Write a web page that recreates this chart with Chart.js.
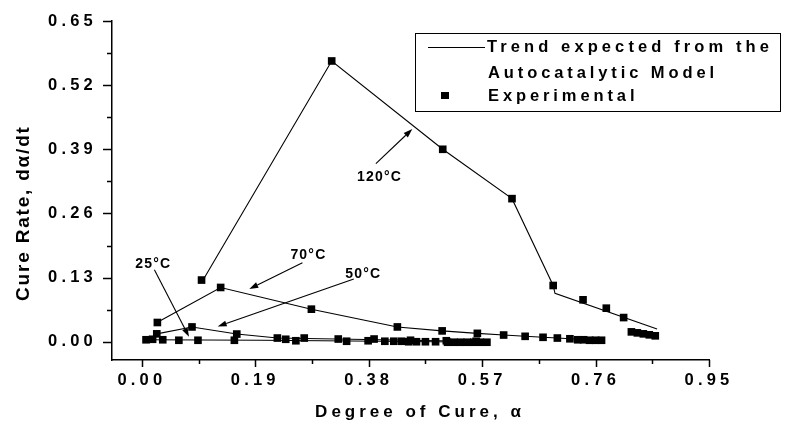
<!DOCTYPE html>
<html><head><meta charset="utf-8">
<script src="https://cdn.jsdelivr.net/npm/chart.js@4"></script>
<style>html,body{margin:0;padding:0;background:#fff}#wrap{width:787px;height:432px;position:relative}</style>
</head><body><div id="wrap"><canvas id="c" width="787" height="432"></canvas></div>
<script>
// ---- tick labels ----
const xTickValues = [0.00, 0.19, 0.38, 0.57, 0.76, 0.95];
const yTickValues = [0.00, 0.13, 0.26, 0.39, 0.52, 0.65];

// ---- experimental points ----
const exp120X = [0.10, 0.318, 0.504, 0.62, 0.689, 0.739, 0.778, 0.807, 0.82, 0.83, 0.84, 0.85, 0.86];
const exp120Y = [0.125, 0.569, 0.390, 0.290, 0.114, 0.085, 0.068, 0.049, 0.020, 0.018, 0.016, 0.014, 0.012];

const exp70X = [0.026, 0.132, 0.284, 0.428, 0.503, 0.562, 0.606, 0.642, 0.672, 0.696, 0.717, 0.73, 0.74, 0.75, 0.76, 0.77];
const exp70Y = [0.039, 0.110, 0.066, 0.030, 0.022, 0.017, 0.0136, 0.011, 0.009, 0.0075, 0.006, 0.004, 0.004, 0.003, 0.003, 0.003];

const exp50X = [0.025, 0.084, 0.159, 0.227, 0.272, 0.329, 0.389, 0.45, 0.51, 0.56];
const exp50Y = [0.016, 0.030, 0.0156, 0.0075, 0.0075, 0.0055, 0.0055, 0.003, 0.002, 0.001];

const exp25X = [0.007, 0.018, 0.035, 0.062, 0.094, 0.155, 0.241, 0.258, 0.343, 0.379, 0.407, 0.422, 0.435, 0.447, 0.46, 0.475, 0.492, 0.512, 0.523, 0.534, 0.545, 0.556, 0.567, 0.578];
const exp25Y = [0.004, 0.005, 0.004, 0.003, 0.003, 0.003, 0.005, 0.002, 0.001, 0.002, 0.001, 0.001, 0.001, 0.000, 0.000, 0.000, 0.000, -0.001, -0.001, -0.001, -0.001, -0.001, -0.001, -0.001];

// ---- model trend lines ----
const trend120X = [0.105, 0.318, 0.504, 0.62, 0.689, 0.692, 0.863];
const trend120Y = [0.130, 0.569, 0.390, 0.290, 0.114, 0.098, 0.026];

const trend70X = [0.03, 0.132, 0.284, 0.428, 0.503, 0.562, 0.606, 0.642, 0.672, 0.696, 0.717, 0.77];
const trend70Y = [0.042, 0.110, 0.066, 0.030, 0.022, 0.017, 0.0136, 0.011, 0.009, 0.0075, 0.006, 0.003];

const trend50X = [0.025, 0.084, 0.159, 0.227, 0.30, 0.40, 0.50, 0.58];
const trend50Y = [0.016, 0.030, 0.0156, 0.0075, 0.006, 0.004, 0.002, 0.001];

const trend25X = [0.007, 0.20, 0.40, 0.58];
const trend25Y = [0.004, 0.003, 0.001, -0.001];

// ---- labels ----
const legendLine1 = 'Trend expected from the';
const legendLine2 = 'Autocatalytic Model';
const legendExp = 'Experimental';
const xTitle = 'Degree of Cure, \u03b1';
const yTitle = 'Cure Rate, d\u03b1/dt';
const tempLabels = ['120\u00b0C', '70\u00b0C', '50\u00b0C', '25\u00b0C'];
// label anchor and arrow (tail -> head) in data units
const tempLabelX = [0.397, 0.278, 0.370, 0.018];
const tempLabelY = [0.334, 0.176, 0.137, 0.157];
const arrowTailX = [0.392, 0.269, 0.355, 0.021];
const arrowTailY = [0.361, 0.160, 0.127, 0.146];
const arrowHeadX = [0.453, 0.180, 0.127, 0.079];
const arrowHeadY = [0.431, 0.107, 0.031, 0.010];

const FONT = '"Liberation Sans", Arial, sans-serif';
const pts = (xs, ys) => xs.map((x, i) => ({x, y: ys[i]}));

const expStyle = {showLine: false, pointStyle: 'rect', pointRadius: 5.4, pointHoverRadius: 5.4,
  backgroundColor: '#000', borderColor: '#000', borderWidth: 0};
const lineStyle = {showLine: true, pointRadius: 0, borderColor: '#000', borderWidth: 1.1, tension: 0, fill: false};

const tickSpacing = '4.2px';

function drawSpaced(ctx, text, x, y, font, ls, align) {
  ctx.save();
  ctx.font = font;
  ctx.letterSpacing = ls;
  ctx.fillStyle = '#000';
  ctx.textBaseline = 'middle';
  ctx.textAlign = 'left';
  const w = ctx.measureText(text).width - parseFloat(ls);
  let sx = x;
  if (align === 'center') sx = x - w / 2;
  else if (align === 'right') sx = x - w;
  ctx.fillText(text, sx, y);
  ctx.restore();
}

const decorPlugin = {
  id: 'decor',
  beforeLayout(chart) { chart.ctx.letterSpacing = tickSpacing; },
  beforeDraw(chart) { chart.ctx.letterSpacing = tickSpacing; },
  afterDraw(chart) {
    const ctx = chart.ctx;
    const xs = chart.scales.x, ys = chart.scales.y;
    const area = chart.chartArea;
    ctx.save();
    ctx.letterSpacing = '0px';
    ctx.strokeStyle = '#000';
    ctx.lineWidth = 1.5;
    // x ticks (major + minor)
    ctx.beginPath();
    xTickValues.forEach((v, i) => {
      const px = Math.round(xs.getPixelForValue(v)) + 0.5;
      ctx.moveTo(px, area.bottom); ctx.lineTo(px, area.bottom + 7);
      if (i < xTickValues.length - 1) {
        const m = Math.round(xs.getPixelForValue((v + xTickValues[i + 1]) / 2)) + 0.5;
        ctx.moveTo(m, area.bottom); ctx.lineTo(m, area.bottom + 4);
      }
    });
    yTickValues.forEach((v, i) => {
      const py = Math.round(ys.getPixelForValue(v)) + 0.5;
      ctx.moveTo(area.left, py); ctx.lineTo(area.left - 9, py);
      if (i < yTickValues.length - 1) {
        const m = Math.round(ys.getPixelForValue((v + yTickValues[i + 1]) / 2)) + 0.5;
        ctx.moveTo(area.left, m); ctx.lineTo(area.left - 5, m);
      }
    });
    ctx.stroke();

    // temperature labels + arrows
    ctx.lineWidth = 1.1;
    tempLabels.forEach((t, i) => {
      drawSpaced(ctx, t, xs.getPixelForValue(tempLabelX[i]), ys.getPixelForValue(tempLabelY[i]),
        'bold 14px ' + FONT, '1.2px', 'center');
      const x1 = xs.getPixelForValue(arrowTailX[i]), y1 = ys.getPixelForValue(arrowTailY[i]);
      const x2 = xs.getPixelForValue(arrowHeadX[i]), y2 = ys.getPixelForValue(arrowHeadY[i]);
      const ang = Math.atan2(y2 - y1, x2 - x1);
      const L = 9, W = 3;
      const bx = x2 - L * Math.cos(ang), by = y2 - L * Math.sin(ang);
      ctx.beginPath(); ctx.moveTo(x1, y1); ctx.lineTo(bx, by); ctx.stroke();
      ctx.beginPath();
      ctx.moveTo(x2, y2);
      ctx.lineTo(bx + W * Math.sin(ang), by - W * Math.cos(ang));
      ctx.lineTo(bx - W * Math.sin(ang), by + W * Math.cos(ang));
      ctx.closePath(); ctx.fillStyle = '#000'; ctx.fill();
    });

    // axis titles
    drawSpaced(ctx, xTitle, 418, 412, 'bold 17px ' + FONT, '4px', 'center');
    ctx.save();
    ctx.translate(24, 214);
    ctx.rotate(-Math.PI / 2);
    drawSpaced(ctx, yTitle, 0, 0, 'bold 19px ' + FONT, '1.8px', 'center');
    ctx.restore();

    // legend box
    ctx.lineWidth = 1;
    ctx.strokeStyle = '#000';
    ctx.strokeRect(415.5, 33.5, 365, 78);
    ctx.beginPath(); ctx.moveTo(428, 47.5); ctx.lineTo(485, 47.5); ctx.stroke();
    ctx.fillRect(441, 92, 8, 7);
    drawSpaced(ctx, legendLine1, 487, 47, 'bold 16.5px ' + FONT, '4.1px', 'left');
    drawSpaced(ctx, legendLine2, 488, 73, 'bold 16.5px ' + FONT, '3.9px', 'left');
    drawSpaced(ctx, legendExp, 488, 96, 'bold 16.5px ' + FONT, '3.9px', 'left');
    ctx.restore();
  }
};

const tickFont = {family: FONT, size: 16.5, weight: 'bold'};

new Chart(document.getElementById('c'), {
  type: 'scatter',
  data: {
    datasets: [
      Object.assign({label: 'Experimental 120', data: pts(exp120X, exp120Y)}, expStyle),
      Object.assign({label: 'Experimental 70', data: pts(exp70X, exp70Y)}, expStyle),
      Object.assign({label: 'Experimental 50', data: pts(exp50X, exp50Y)}, expStyle),
      Object.assign({label: 'Experimental 25', data: pts(exp25X, exp25Y)}, expStyle),
      Object.assign({label: 'Trend 120', data: pts(trend120X, trend120Y)}, lineStyle),
      Object.assign({label: 'Trend 70', data: pts(trend70X, trend70Y)}, lineStyle),
      Object.assign({label: 'Trend 50', data: pts(trend50X, trend50Y)}, lineStyle),
      Object.assign({label: 'Trend 25', data: pts(trend25X, trend25Y)}, lineStyle)
    ]
  },
  options: {
    responsive: false,
    devicePixelRatio: 1,
    animation: false,
    layout: {padding: {top: 21, right: 78, bottom: 0, left: 0}},
    plugins: {legend: {display: false}, tooltip: {enabled: false}},
    scales: {
      x: {
        type: 'linear', min: -0.05, max: 0.95,
        afterBuildTicks: s => { s.ticks = xTickValues.map(v => ({value: v})); },
        afterFit: s => { s.height = 72; },
        ticks: {font: tickFont, color: '#000', padding: 3, maxRotation: 0, autoSkip: false,
          callback: v => Number(v).toFixed(2)},
        grid: {display: false, drawTicks: true, tickLength: 8},
        border: {display: true, color: '#000', width: 1.5}
      },
      y: {
        type: 'linear', min: -0.037, max: 0.65,
        afterBuildTicks: s => { s.ticks = yTickValues.map(v => ({value: v})); },
        afterFit: s => { s.width = 112; },
        ticks: {font: tickFont, color: '#000', padding: 6, autoSkip: false,
          callback: v => Number(v).toFixed(2)},
        grid: {display: false, drawTicks: true, tickLength: 9},
        border: {display: true, color: '#000', width: 1.5}
      }
    }
  },
  plugins: [decorPlugin]
});
</script>
</body></html>
